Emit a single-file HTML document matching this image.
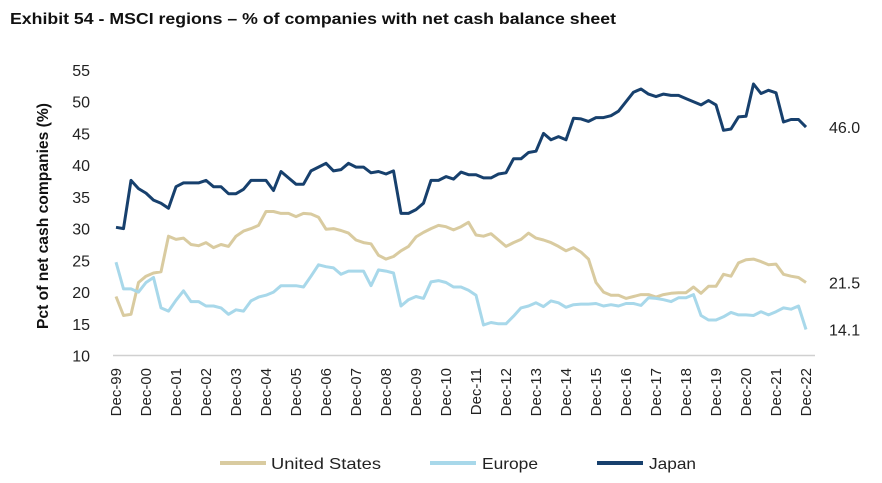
<!DOCTYPE html>
<html><head><meta charset="utf-8"><style>
body{margin:0;background:#fff;}
svg{display:block;font-family:"Liberation Sans",sans-serif;}
</style></head><body>
<svg id="chart" width="882" height="483">
<text x="10" y="24" font-size="16" font-weight="bold" fill="#111" textLength="606" lengthAdjust="spacingAndGlyphs">Exhibit 54 - MSCI regions – % of companies with net cash balance sheet</text>
<text transform="translate(48,216) rotate(-90)" text-anchor="middle" font-size="16" font-weight="bold" fill="#111" textLength="226" lengthAdjust="spacingAndGlyphs">Pct of net cash companies (%)</text>
<g id="yt"></g><g id="xt"></g><g id="lines"></g><g id="ends"></g>
<line x1="113" y1="355.5" x2="815" y2="355.5" stroke="#d0d0d0" stroke-width="1.5"/>
<g>
<g><line x1="220" y1="463" x2="266" y2="463" stroke="#d9cba0" stroke-width="4"/><text x="271" y="469" font-size="16" fill="#222" textLength="110" lengthAdjust="spacingAndGlyphs">United States</text></g>
<g><line x1="430" y1="463" x2="476" y2="463" stroke="#a8d8ea" stroke-width="4"/><text x="482" y="469" font-size="16" fill="#222" textLength="56" lengthAdjust="spacingAndGlyphs">Europe</text></g>
<g><line x1="597" y1="463" x2="643" y2="463" stroke="#17406d" stroke-width="4"/><text x="649" y="469" font-size="16" fill="#222" textLength="47" lengthAdjust="spacingAndGlyphs">Japan</text></g>
</g>
</svg>
<script>
const yTicks=[10,15,20,25,30,35,40,45,50,55];
const years=["99","00","01","02","03","04","05","06","07","08","09","10","11","12","13","14","15","16","17","18","19","20","21","22"];
const japan=[30.2,30,37.6,36.3,35.6,34.5,34,33.2,36.6,37.2,37.2,37.2,37.6,36.6,36.6,35.5,35.5,36.2,37.6,37.6,37.6,36,39,38,37,37,39.1,39.7,40.3,39.1,39.3,40.3,39.7,39.7,38.8,39,38.6,39.1,32.4,32.4,33,34,37.6,37.6,38.2,37.8,38.9,38.5,38.5,38,38,38.6,38.8,41,41,42,42.2,45,44,44.5,44,47.4,47.3,46.9,47.5,47.5,47.8,48.5,50,51.5,52,51.2,50.8,51.2,51,51,50.5,50,49.5,50.2,49.5,45.5,45.7,47.6,47.7,52.8,51.3,51.8,51.4,46.8,47.2,47.2,46.0];
const us=[19.3,16.3,16.5,21.5,22.5,23,23.2,28.8,28.3,28.5,27.5,27.3,27.8,27,27.5,27.2,28.8,29.6,30,30.5,32.7,32.7,32.4,32.4,31.9,32.4,32.3,31.8,29.9,30,29.7,29.3,28.2,27.8,27.6,25.8,25.2,25.6,26.5,27.2,28.7,29.4,30,30.5,30.3,29.8,30.3,31,29,28.8,29.2,28.2,27.2,27.8,28.3,29.3,28.5,28.2,27.8,27.2,26.5,27,26.3,25.2,21.5,20,19.5,19.5,19,19.3,19.6,19.6,19.2,19.6,19.8,19.9,19.9,20.8,19.8,20.9,20.9,22.8,22.5,24.6,25.1,25.2,24.8,24.3,24.4,22.8,22.5,22.3,21.5];
const europe=[24.7,20.5,20.5,20,21.5,22.3,17.5,17,18.7,20.2,18.5,18.5,17.8,17.8,17.5,16.5,17.2,17,18.6,19.2,19.5,20,21,21,21,20.8,22.5,24.3,24,23.8,22.8,23.3,23.3,23.3,21,23.5,23.3,23,17.8,18.8,19.3,19,21.6,21.8,21.5,20.8,20.8,20.3,19.5,14.8,15.2,15,15,16.2,17.5,17.8,18.3,17.7,18.6,18.3,17.6,18,18.1,18.1,18.2,17.8,18,17.8,18.2,18.2,17.9,19.1,19,18.8,18.5,19.1,19.1,19.6,16.3,15.6,15.6,16.1,16.8,16.4,16.4,16.3,16.9,16.4,16.9,17.5,17.3,17.8,14.1];
const NS="http://www.w3.org/2000/svg";
const x0=116,x1=806;
function yS(v){return 355.5-(v-10)*(285.5/45);}
function xS(i,n){return x0+(x1-x0)*i/(n-1);}
function mk(t,a,p){const e=document.createElementNS(NS,t);for(const k in a)e.setAttribute(k,a[k]);p.appendChild(e);return e;}
const yt=document.getElementById('yt');
yTicks.forEach(v=>{const t=mk('text',{x:90,y:yS(v)+6,'text-anchor':'end','font-size':16,fill:'#222'},yt);t.textContent=v;

});
const xt=document.getElementById('xt');
years.forEach((y,i)=>{const x=x0+(x1-x0)*i/(years.length-1);const t=mk('text',{transform:`translate(${x+5},368) rotate(-90)`,'text-anchor':'end','font-size':15,fill:'#222'},xt);t.textContent='Dec-'+y;

});
const lg=document.getElementById('lines'),ends=document.getElementById('ends');
[[us,'#d9cba0','us-line'],[europe,'#a8d8ea','europe-line'],[japan,'#17406d','japan-line']].forEach(([d,c,n])=>{
const pts=d.map((v,i)=>xS(i,d.length).toFixed(1)+','+yS(v).toFixed(1)).join(' ');
const p=mk('polyline',{points:pts,fill:'none',stroke:c,'stroke-width':3,'stroke-linejoin':'round'},lg);


const last=d[d.length-1];
const t=mk('text',{x:829,y:yS(last)+6,'font-size':16,fill:'#222'},ends);t.textContent=last.toFixed(1);


});
</script>
</body></html>
